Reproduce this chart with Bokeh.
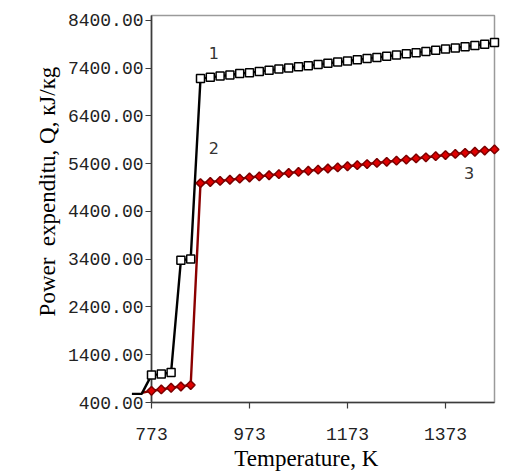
import math
from bokeh.plotting import figure
from bokeh.models import FixedTicker, NumeralTickFormatter, Range1d
from bokeh.core.properties import value
from bokeh.embed import file_html
from bokeh.resources import INLINE

# Temperatures, K
temps = [773, 793, 813, 833, 853, 873, 893, 913, 933, 953, 973, 993, 1013,
         1033, 1053, 1073, 1093, 1113, 1133, 1153, 1173, 1193, 1213, 1233,
         1253, 1273, 1293, 1313, 1333, 1353, 1373, 1393, 1413, 1433, 1453, 1473]

# Curve 1, power expenditure, kJ/kg
q1 = [974, 995, 1029, 3377, 3406, 7180, 7205, 7232, 7255, 7285, 7302, 7330,
      7352, 7378, 7400, 7428, 7450, 7475, 7500, 7525, 7548, 7575, 7598, 7622,
      7648, 7672, 7698, 7722, 7748, 7772, 7798, 7822, 7848, 7872, 7900, 7933]

# Curves 2 and 3, power expenditure, kJ/kg
q2 = [645, 673, 708, 735, 765, 4991, 5015, 5038, 5062, 5085, 5109, 5132,
      5156, 5179, 5203, 5226, 5250, 5273, 5297, 5320, 5344, 5367, 5391, 5414,
      5438, 5461, 5485, 5508, 5532, 5555, 5579, 5602, 5626, 5649, 5673, 5697]

# lead-in of the curves below the first marked temperature
lead1_t = [733, 753]
lead1_q = [580, 580]
lead2_t = [753]
lead2_q = [600]

# curve numbers
tag_t = [900, 900, 1421]
tag_q = [7710, 5730, 5195]
tag_text = ["1", "2", "3"]

x_ticks = [773, 973, 1173, 1373]
y_ticks = [400, 1400, 2400, 3400, 4400, 5400, 6400, 7400, 8400]

x_title = "Temperature, K"
y_title = "Power\u00a0 expenditu, Q, кJ/кg"

p = figure(width=527, height=475, output_backend="svg", toolbar_location=None,
           x_range=Range1d(773, 1473), y_range=Range1d(400, 8500),
           min_border_left=151, min_border_right=33,
           min_border_top=15, min_border_bottom=73)
p.background_fill_color = "white"
p.border_fill_color = "white"
p.outline_line_color = "#9a9a9a"
p.outline_line_width = 1.5
p.xgrid.visible = False
p.ygrid.visible = False

for ax in (p.xaxis, p.yaxis):
    ax.axis_line_color = "#3c3c3c"
    ax.axis_line_width = 1.6
    ax.major_tick_line_color = "#3c3c3c"
    ax.major_tick_line_width = 1.2
    ax.major_tick_in = 0
    ax.major_tick_out = 6
    ax.minor_tick_line_color = None
    ax.major_label_text_font = "Liberation Mono"
    ax.major_label_text_font_size = "18px"
    ax.major_label_text_color = "#222222"

p.xaxis.ticker = FixedTicker(ticks=x_ticks)
p.yaxis.ticker = FixedTicker(ticks=y_ticks)
p.yaxis.formatter = NumeralTickFormatter(format="0.00")
p.xaxis.major_label_standoff = 19
p.yaxis.major_label_standoff = 2

t1 = lead1_t + temps
v1 = lead1_q + q1
t2 = lead2_t + temps
v2 = lead2_q + q2

# overlay level lets the lead-in run past the left axis
r2 = p.line(t2, v2, line_color="#8b0000", line_width=2.4, level="overlay")
r1 = p.line(t1, v1, line_color="#000000", line_width=2.4, level="overlay")

p.scatter(temps, q1, marker="square", size=8, fill_color="white",
          line_color="black", line_width=1.5, level="overlay")
p.scatter(temps, q2, marker="square", size=6.2, angle=math.pi / 4,
          fill_color="#e00000", line_color="#7a0000", line_width=1.5,
          level="overlay")

p.text(tag_t, tag_q, text=tag_text, text_font=value("DejaVu Sans"),
       text_font_size="16px", text_color="#333333",
       text_align="center", text_baseline="middle")

# axis titles, placed in data space beside the frame
p.text([561], [4816], text=[y_title], angle=math.pi / 2,
       text_font=value("Liberation Serif"), text_font_size="23px",
       text_color="black", text_align="center", text_baseline="middle",
       level="overlay")
p.text([1089], [-780], text=[x_title],
       text_font=value("Liberation Serif"), text_font_size="23px",
       text_color="black", text_align="center", text_baseline="middle",
       level="overlay")

open("out.html", "w").write(file_html(p, INLINE))
